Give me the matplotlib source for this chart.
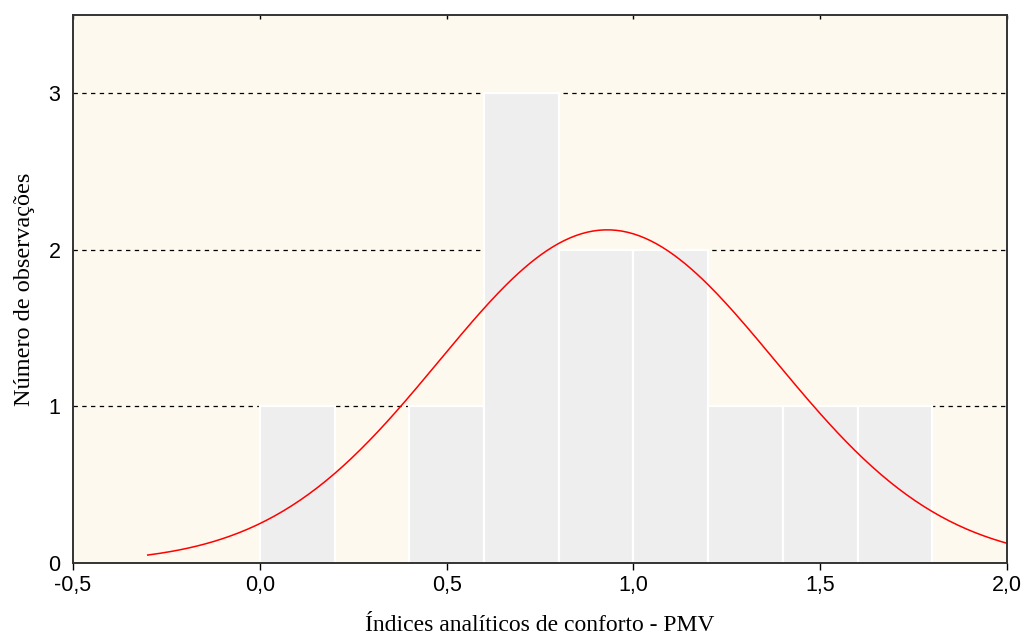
import numpy as np
import matplotlib
matplotlib.use('Agg')
import matplotlib.pyplot as plt

# Histogram of PMV comfort indices (bin edges and counts per bin)
BIN_LEFT = [0.0, 0.4, 0.6, 0.8, 1.0, 1.2, 1.4, 1.6]
COUNTS = [1, 1, 3, 2, 2, 1, 1, 1]
BIN_WIDTH = 0.2

# Fitted normal curve parameters
FIT_MEAN = 0.93
FIT_SD = 0.45
FIT_RANGE = (-0.3, 2.0)

X_TICKS = [-0.5, 0.0, 0.5, 1.0, 1.5, 2.0]
X_TICK_LABELS = ['-0,5', '0,0', '0,5', '1,0', '1,5', '2,0']
Y_TICKS = [0, 1, 2, 3]

BG = '#fef9ee'
BAR = '#eeeeee'

fig = plt.figure(figsize=(10.27, 6.37), dpi=100)
ax = fig.add_axes([0.0711, 0.1162, 0.9094, 0.8603])
ax.set_facecolor(BG)

# dashed reference lines behind the bars
for y in Y_TICKS:
    ax.axhline(y, color='black', lw=0.9, ls=(0, (3.5, 3.5)), zorder=1)

ax.bar(BIN_LEFT, COUNTS, width=BIN_WIDTH, align='edge', color=BAR,
       edgecolor='white', linewidth=1.6, zorder=2)

n = sum(COUNTS)
xs = np.linspace(FIT_RANGE[0], FIT_RANGE[1], 300)
ys = n * BIN_WIDTH / (FIT_SD * np.sqrt(2 * np.pi)) * np.exp(-(xs - FIT_MEAN) ** 2 / (2 * FIT_SD ** 2))
ax.plot(xs, ys, color='#ff0000', lw=1.1, zorder=3, clip_on=False)

ax.set_xlim(-0.5, 2.0)
ax.set_ylim(0, 3.5)
ax.set_xticks(X_TICKS)
ax.set_xticklabels(X_TICK_LABELS)
ax.set_yticks(Y_TICKS)

for side in ['left', 'bottom', 'top', 'right']:
    ax.spines[side].set_color('#333333')
    ax.spines[side].set_linewidth(1.4)
    ax.spines[side].set_zorder(5)

ax.tick_params(axis='x', direction='out', length=5, width=1, pad=4,
               labelsize=15.5, top=True, labeltop=False)
for t in ax.xaxis.get_major_ticks():
    t.tick2line.set_marker(3)  # small inward tick on the top spine
    t.tick2line.set_markersize(3)
ax.tick_params(axis='y', length=0, pad=9, labelsize=15.5)
for lbl in ax.get_xticklabels() + ax.get_yticklabels():
    lbl.set_fontfamily('Liberation Sans')

ax.set_xlabel('Índices analíticos de conforto - PMV', fontfamily='Liberation Serif',
              fontsize=17, labelpad=13)
ax.set_ylabel('Número de observações', fontfamily='Liberation Serif',
              fontsize=17.5, labelpad=10)

fig.savefig('out.png', dpi=100, facecolor='white')
